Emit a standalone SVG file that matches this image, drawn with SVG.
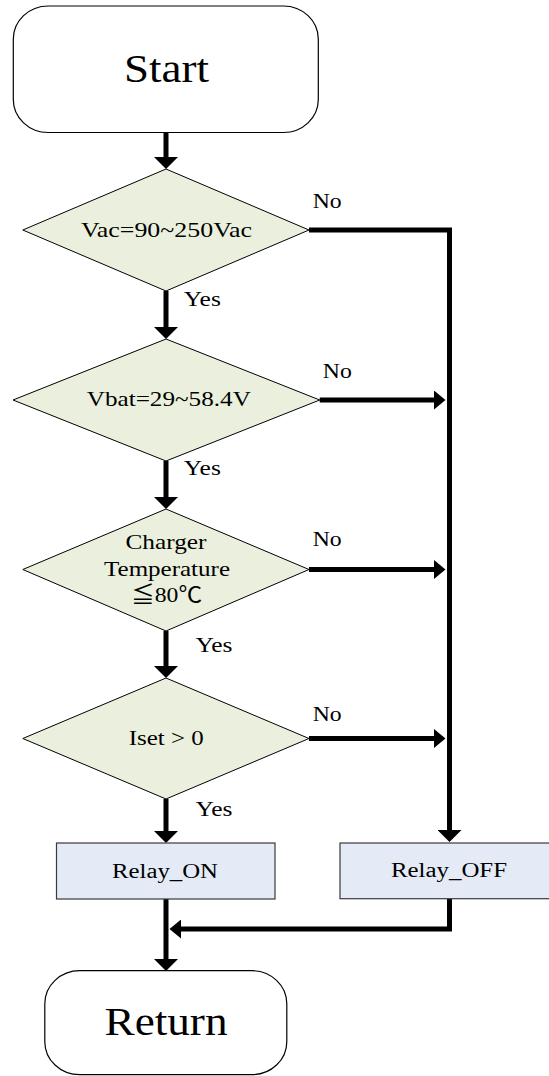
<svg xmlns="http://www.w3.org/2000/svg" width="549" height="1076" viewBox="0 0 549 1076">
  <style>
    .term { fill: #ffffff; stroke: #000000; stroke-width: 1.2; }
    .dec { fill: #eaf0dd; stroke: #000000; stroke-width: 1; }
    .proc { fill: #e4ebf6; stroke: #3a3a3a; stroke-width: 1.2; }
    .conn { fill: none; stroke: #000000; stroke-width: 5; stroke-linejoin: miter; }
    text { font-family: "Liberation Serif", "Noto Sans CJK SC", serif; fill: #000000; }
    .big { font-size: 40px; text-anchor: middle; }
    .mid { font-size: 22px; text-anchor: middle; }
    .box { font-size: 20px; text-anchor: middle; }
    .lbl { font-size: 20px; }
  </style>
  <defs>
    <marker id="headV" markerUnits="userSpaceOnUse" markerWidth="12" markerHeight="24" refX="0" refY="12" orient="auto">
      <path d="M0,0 L12,12 L0,24 Z" fill="#000000"/>
    </marker>
    <marker id="headH" markerUnits="userSpaceOnUse" markerWidth="12" markerHeight="19" refX="0" refY="9.5" orient="auto">
      <path d="M0,0 L11.5,9.5 L0,19 Z" fill="#000000"/>
    </marker>
  </defs>

  <!-- connectors -->
  <g id="connectors">
    <path class="conn" d="M166,132.5 V157" marker-end="url(#headV)"/>
    <path class="conn" d="M166,291 V327" marker-end="url(#headV)"/>
    <path class="conn" d="M166,461 V497" marker-end="url(#headV)"/>
    <path class="conn" d="M166,631 V666" marker-end="url(#headV)"/>
    <path class="conn" d="M166,799 V831" marker-end="url(#headV)"/>
    <path class="conn" d="M166,899 V959" marker-end="url(#headV)"/>
    <path class="conn" d="M309,230 H449.5 V830" marker-end="url(#headV)"/>
    <path class="conn" d="M319.7,400 H434" marker-end="url(#headH)"/>
    <path class="conn" d="M309,569.5 H434" marker-end="url(#headH)"/>
    <path class="conn" d="M309,738.5 H434" marker-end="url(#headH)"/>
    <path class="conn" d="M449.5,898.7 V929 H181" marker-end="url(#headH)"/>
  </g>

  <g id="start">
    <rect class="term" x="13.3" y="6" width="305" height="126.5" rx="35" ry="33"/>
    <text class="big" x="166.5" y="82" textLength="85" lengthAdjust="spacingAndGlyphs">Start</text>
  </g>

  <g id="check-vac">
    <polygon class="dec" points="166,169 309,230 166,291 22.8,230"/>
    <text class="mid" x="166.5" y="237" textLength="171" lengthAdjust="spacingAndGlyphs">Vac=90~250Vac</text>
  </g>

  <g id="check-vbat">
    <polygon class="dec" points="166,339 319.7,400 166,461 13,400"/>
    <text class="mid" x="168.8" y="406" textLength="164" lengthAdjust="spacingAndGlyphs">Vbat=29~58.4V</text>
  </g>

  <g id="check-temp">
    <polygon class="dec" points="166,509 309,569.5 166,631 22.8,569.5"/>
    <text class="mid" x="166" y="549.3" textLength="81" lengthAdjust="spacingAndGlyphs">Charger</text>
    <text class="mid" x="167" y="576" textLength="126" lengthAdjust="spacingAndGlyphs">Temperature</text>
    <text class="mid" x="166.6" y="601.7" textLength="71" lengthAdjust="spacingAndGlyphs">≦80℃</text>
  </g>

  <g id="check-iset">
    <polygon class="dec" points="166,678 309,738.5 166,799 22.8,738.5"/>
    <text class="mid" x="166.3" y="745" textLength="75" lengthAdjust="spacingAndGlyphs">Iset &gt; 0</text>
  </g>

  <g id="relay-on">
    <rect class="proc" x="56.5" y="843" width="218.5" height="56"/>
    <text class="box" x="165" y="878" textLength="106" lengthAdjust="spacingAndGlyphs">Relay_ON</text>
  </g>

  <g id="relay-off">
    <rect class="proc" x="340" y="843" width="215" height="55.7"/>
    <text class="box" x="449" y="877" textLength="116" lengthAdjust="spacingAndGlyphs">Relay_OFF</text>
  </g>

  <g id="return">
    <rect class="term" x="44.8" y="970.7" width="242" height="104" rx="35" ry="33"/>
    <text class="big" x="166" y="1035" textLength="123" lengthAdjust="spacingAndGlyphs">Return</text>
  </g>

  <!-- branch labels -->
  <g id="labels">
    <text class="lbl" x="312.7" y="208.3" textLength="29" lengthAdjust="spacingAndGlyphs">No</text>
    <text class="lbl" x="322.8" y="377.7" textLength="29" lengthAdjust="spacingAndGlyphs">No</text>
    <text class="lbl" x="312.7" y="545.7" textLength="29" lengthAdjust="spacingAndGlyphs">No</text>
    <text class="lbl" x="312.7" y="720.7" textLength="29" lengthAdjust="spacingAndGlyphs">No</text>
    <text class="lbl" x="183.8" y="305.7" textLength="37" lengthAdjust="spacingAndGlyphs">Yes</text>
    <text class="lbl" x="183.8" y="475" textLength="37" lengthAdjust="spacingAndGlyphs">Yes</text>
    <text class="lbl" x="195.4" y="652.3" textLength="37" lengthAdjust="spacingAndGlyphs">Yes</text>
    <text class="lbl" x="195.4" y="815.7" textLength="37" lengthAdjust="spacingAndGlyphs">Yes</text>
  </g>
</svg>
